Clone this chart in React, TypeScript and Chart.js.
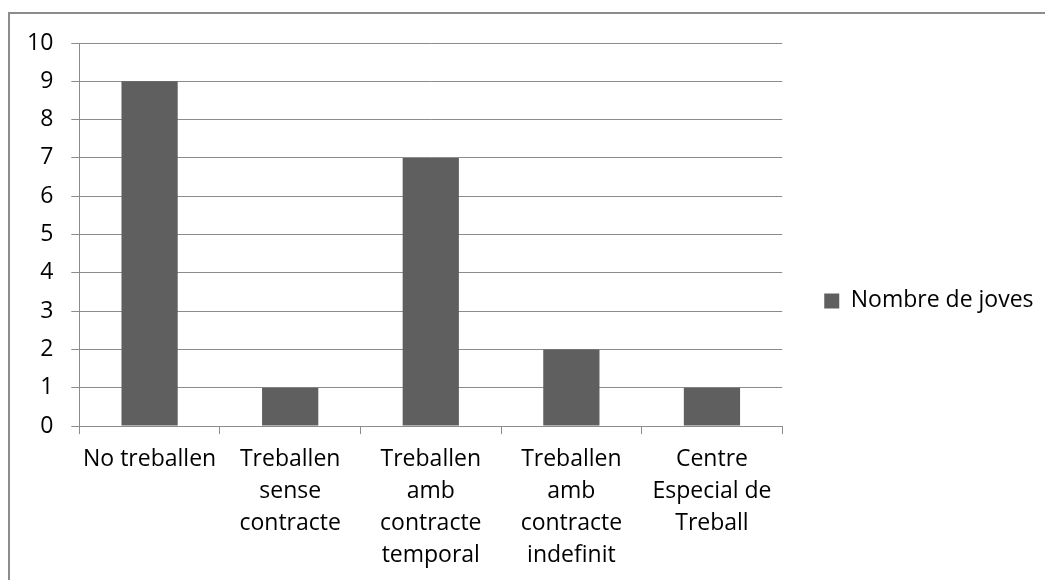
import { useEffect, useRef } from 'react';
import { Chart, registerables } from 'chart.js';

Chart.register(...registerables);

const categories: (string | string[])[] = [
  'No treballen',
  ['Treballen', 'sense', 'contracte'],
  ['Treballen', 'amb', 'contracte', 'temporal'],
  ['Treballen', 'amb', 'contracte', 'indefinit'],
  ['Centre', 'Especial de', 'Treball'],
];
const seriesName = 'Nombre de joves';
const seriesValues = [9, 1, 7, 2, 1];
const yMin = 0;
const yMax = 10;
const yStep = 1;

const FONT = "'Open Sans', sans-serif";
const GRID = '#8c8c8c';
const BAR = '#5f5f5f';

const framePlugin = {
  id: 'frame',
  afterDraw(chart: any) {
    const ctx = chart.ctx;
    ctx.save();
    ctx.strokeStyle = GRID;
    ctx.lineWidth = 2;
    ctx.strokeRect(9, 13, 1200, 1200);
    ctx.restore();
  },
};

export default function App() {
  const ref = useRef<HTMLCanvasElement>(null);
  useEffect(() => {
    if (!ref.current) return;
    const chart = new Chart(ref.current, {
      type: 'bar',
      data: {
        labels: categories,
        datasets: [
          {
            label: seriesName,
            data: seriesValues,
            backgroundColor: BAR,
            borderWidth: 0,
            barPercentage: 0.4,
            categoryPercentage: 1,
          },
        ],
      },
      options: {
        animation: false,
        responsive: false,
        maintainAspectRatio: false,
        layout: { padding: { left: 9, top: 43, right: 5, bottom: 0 } },
        plugins: {
          tooltip: { enabled: false },
          legend: {
            position: 'right',
            align: 'start',
            title: { display: true, text: '', font: { size: 12 }, padding: { top: 190, bottom: 0 } },
            labels: {
              color: '#000',
              font: { family: FONT, size: 23 },
              boxWidth: 15,
              boxHeight: 15,
              padding: 42,
            },
          },
        },
        scales: {
          x: {
            grid: {
              drawOnChartArea: false,
              drawTicks: true,
              tickLength: 8,
              color: GRID,
            },
            border: { color: GRID, width: 1 },
            ticks: {
              color: '#000',
              font: { family: FONT, size: 23, lineHeight: 1.39 },
              padding: 9,
              autoSkip: false,
              maxRotation: 0,
            },
          },
          y: {
            min: yMin,
            max: yMax,
            grid: { color: GRID, tickLength: 8 },
            border: { color: GRID, width: 1 },
            ticks: {
              stepSize: yStep,
              color: '#000',
              font: { family: FONT, size: 23 },
              padding: 18,
            },
          },
        },
      },
      plugins: [framePlugin],
    });
    return () => chart.destroy();
  }, []);
  return (
    <div style={{ position: 'absolute', left: 0, top: 0, width: 1045, height: 580 }}>
      <canvas ref={ref} width={1045} height={580} style={{ display: 'block' }} />
    </div>
  );
}
